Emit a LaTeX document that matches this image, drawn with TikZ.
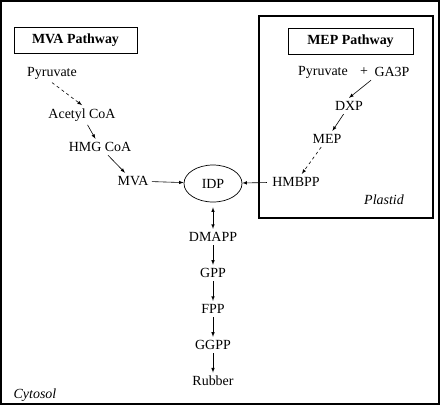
\documentclass[tikz,border=0pt]{standalone}
\usepackage{fontspec}
\setmainfont{Liberation Serif}
\usetikzlibrary{shapes,arrows}
\tikzstyle{block} = [draw, rectangle, thick, font=\fontsize{14}{16}\selectfont\bfseries, minimum height=26bp]
\tikzstyle{pool} = [draw, ellipse, line width=0.7bp, minimum width=58bp, minimum height=37bp]
\tikzstyle{input} = []
\tikzstyle{label} = [font=\fontsize{14}{16}\selectfont\itshape]
\tikzstyle{region} = [draw, line width=2bp]
\tikzstyle{flow} = [->, line width=0.6bp]

\begin{document}
\begin{tikzpicture}[x=1bp, y=-1bp, node distance=36bp, >=latex,
    every node/.style={font=\fontsize{14}{16}\selectfont}]
    \useasboundingbox (0,0) rectangle (440,405);
    \draw [region] (1,1) rectangle (439,404);
    \draw [region] (259,16) rectangle (433,218);

    % cytosol side
    \node [block, minimum width=123bp] (mvabox) at (75.5,40.5) {MVA Pathway};
    \node [input] (pyr) at (52,73) {Pyruvate};
    \node [input] (acetyl) at (82,115) {Acetyl CoA};
    \draw [flow, dashed] (pyr.south) -- (acetyl.north);
    \node [input] (hmg) at (100,147) {HMG CoA};
    \draw [flow] (acetyl) -- (hmg);
    \node [input] (mva) at (133,181) {MVA};
    \draw [flow] (hmg) -- (mva);
    \node [pool] (idp) at (213,183.5) {IDP};
    \draw [flow] (mva) -- (idp);

    % plastid side
    \node [block, minimum width=125bp] (mepbox) at (350.5,41) {MEP Pathway};
    \node [input] (pyr2) at (323,72) {Pyruvate};
    \node [input] (plus) at (364,72) {+};
    \node [input] (ga3p) at (392,72) {GA3P};
    \node [input] (dxp) at (349,106) {DXP};
    \draw [flow] (ga3p.south west) -- (dxp.north);
    \node [input] (mep) at (327,139) {MEP};
    \draw [flow] (dxp) -- (mep);
    \node [input] (hmbpp) at (296,182) {HMBPP};
    \draw [flow, dashed] (mep) -- (hmbpp);
    \draw [flow, shorten <=2bp] (hmbpp) -- (idp);
    \node [label] (plastid) at (384,200) {Plastid};

    % towards rubber
    \node [input] (dmapp) at (213,237) {DMAPP};
    \draw [flow, <->, shorten <=5bp] (idp) -- (dmapp);
    \node [input, below of=dmapp] (gpp) {GPP};
    \draw [flow] (dmapp) -- (gpp);
    \node [input, below of=gpp] (fpp) {FPP};
    \draw [flow] (gpp) -- (fpp);
    \node [input, below of=fpp] (ggpp) {GGPP};
    \draw [flow] (fpp) -- (ggpp);
    \node [input, below of=ggpp] (rubber) {Rubber};
    \draw [flow] (ggpp) -- (rubber);
    \node [label] (cytosol) at (35,395) {Cytosol};
\end{tikzpicture}
\end{document}
